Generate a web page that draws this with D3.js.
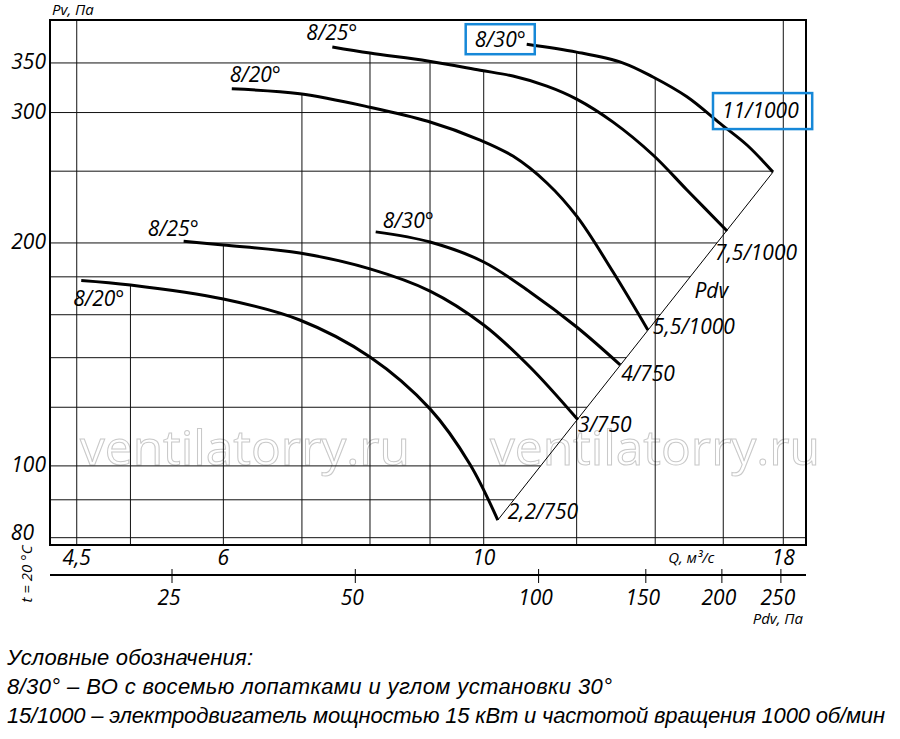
<!DOCTYPE html>
<html>
<head>
<meta charset="utf-8">
<script src="https://cdn.jsdelivr.net/npm/d3@7"></script>
<style>
body { margin: 0; background: #fff; }
text { font-family: "Open Sans", "Noto Sans", sans-serif; font-style: italic; fill: #000; }
.legend text { font-family: "Liberation Sans", Arial, sans-serif; }
</style>
</head>
<body>
<script>
// grid values and tick labels
var qGrid = [4.5, 5, 6, 7, 8, 9, 10, 12, 14, 16, 18];
var qLabels = [4.5, 6, 10, 18];
var pGrid = [80, 90, 100, 120, 140, 160, 180, 200, 250, 300, 350];
var pLabels = [80, 100, 200, 300, 350];
var pdvTicks = [25, 50, 100, 150, 200, 250];

// 750 rpm curves (Q m3/s, Pv Pa)
var q20_750 = [4.54, 5.0, 6.0, 6.97, 8.0, 9.0, 9.73, 10.28];
var p20_750 = [178, 175.5, 168, 157.4, 140.3, 119.4, 100.6, 84.5];
var q25_750 = [5.55, 6.0, 6.97, 8.0, 9.0, 10.0, 10.95, 12.03];
var p25_750 = [201, 198.7, 193.8, 184.5, 172.2, 155, 136, 115.4];
var q30_750 = [8.09, 9.0, 10.0, 10.95, 12.0, 13.07];
var p30_750 = [207, 200.6, 188.5, 171.7, 154, 136.9];

// 1000 rpm curves
var q20_1000 = [6.10, 6.97, 8.0, 8.96, 9.93, 10.59, 11.32, 12.01, 12.89, 13.80];
var p20_1000 = [323, 318, 305, 292, 275.4, 262, 241, 217, 182.7, 152.6];
var q25_1000 = [7.43, 8.0, 8.96, 9.93, 10.59, 11.32, 12.0, 12.89, 13.94, 14.9, 16.12];
var p25_1000 = [367.8, 360.9, 352.1, 342.2, 336, 325.7, 312.8, 291.2, 262.9, 235.8, 207.6];
var q30_1000 = [10.88, 12.0, 13.15, 13.94, 14.9, 15.9, 16.77, 17.64];
var p30_1000 = [371, 362, 349.9, 335, 315, 290, 271, 249.3];

var angles = ["8/20°", "8/25°", "8/30°", "8/20°", "8/25°", "8/30°"];
var motors = ["2,2/750", "3/750", "4/750", "5,5/1000", "7,5/1000", "11/1000"];

var legendLines = [
	"Условные обозначения:",
	"8/30° – ВО с восемью лопатками и углом установки 30°",
	"15/1000 – электродвигатель мощностью 15 кВт и частотой вращения 1000 об/мин"
];

var curves = [
	[q20_750, p20_750], [q25_750, p25_750], [q30_750, p30_750],
	[q20_1000, p20_1000], [q25_1000, p25_1000], [q30_1000, p30_1000]
].map(function (c, i) {
	return {
		angle: angles[i],
		motor: motors[i],
		pts: c[0].map(function (q, j) { return {q: q, p: c[1][j]}; })
	};
});

var plotLeft = 50, plotRight = 806, plotTop = 20, plotBottom = 545;

var svg = d3.select("body").append("svg")
	.attr("width", 900)
	.attr("height", 739);

var x = d3.scaleLog().domain([4.27, 18.82]).range([plotLeft, plotRight]);
var y = d3.scaleLog().domain([78.2, 400]).range([plotBottom, plotTop]);
var xPdv = d3.scaleLog().domain([15.76, 274.9]).range([plotLeft, plotRight]);

function comma(v) {
	return String(v).replace(".", ",");
}

// pressure of a curve at flow q, log-log interpolation
function pAt(pts, q) {
	if (q < pts[0].q || q > pts[pts.length - 1].q) return null;
	for (var i = 0; i < pts.length - 1; i++) {
		var a = pts[i], b = pts[i + 1];
		if (q >= a.q && q <= b.q) {
			var t = Math.log(q / a.q) / Math.log(b.q / a.q);
			return Math.exp(Math.log(a.p) + t * Math.log(b.p / a.p));
		}
	}
	return null;
}

// flow of a curve at pressure p (pressure falls along the curve)
function qAt(pts, p) {
	for (var i = 0; i < pts.length - 1; i++) {
		var a = pts[i], b = pts[i + 1];
		if (p <= a.p && p >= b.p) {
			var t = Math.log(p / a.p) / Math.log(b.p / a.p);
			return Math.exp(Math.log(a.q) + t * Math.log(b.q / a.q));
		}
	}
	return null;
}

var pdvLo = curves[0].pts[curves[0].pts.length - 1];
var pdvHi = curves[5].pts[curves[5].pts.length - 1];
var pdvK = Math.log(pdvHi.q / pdvLo.q) / Math.log(pdvHi.p / pdvLo.p);
var topCurve = curves[5].pts;

// watermark
[80, 490].forEach(function (wx) {
	svg.append("text")
		.attr("x", wx)
		.attr("y", 465)
		.attr("textLength", 330)
		.attr("lengthAdjust", "spacingAndGlyphs")
		.style("font-style", "normal")
		.style("font-size", "48px")
		.style("fill", "none")
		.style("stroke", "#c9c9c9")
		.style("stroke-width", 1)
		.text("ventilatorry.ru");
});

var grid = svg.append("g")
	.style("stroke", "#111")
	.style("stroke-width", 1);

// vertical grid stops at the highest curve
qGrid.forEach(function (q) {
	var maxP = null;
	curves.forEach(function (c) {
		var p = pAt(c.pts, q);
		if (p !== null && (maxP === null || p > maxP)) maxP = p;
	});
	grid.append("line")
		.attr("x1", x(q)).attr("x2", x(q))
		.attr("y1", plotBottom)
		.attr("y2", maxP === null ? plotTop : y(maxP));
});

// horizontal grid stops at the Pdv line / last curve
pGrid.forEach(function (p) {
	var qEnd = null;
	if (p >= pdvLo.p && p <= pdvHi.p) {
		qEnd = pdvLo.q * Math.pow(p / pdvLo.p, pdvK);
	} else if (p > pdvHi.p) {
		qEnd = qAt(topCurve, p);
	}
	grid.append("line")
		.attr("x1", plotLeft)
		.attr("x2", qEnd === null ? plotRight : x(qEnd))
		.attr("y1", y(p)).attr("y2", y(p));
});

// frame
svg.append("rect")
	.attr("x", plotLeft).attr("y", plotTop)
	.attr("width", plotRight - plotLeft).attr("height", plotBottom - plotTop)
	.style("fill", "none")
	.style("stroke", "#000")
	.style("stroke-width", 2);

// Pdv line
svg.append("line")
	.attr("x1", x(pdvLo.q)).attr("y1", y(pdvLo.p))
	.attr("x2", x(pdvHi.q)).attr("y2", y(pdvHi.p))
	.style("stroke", "#000")
	.style("stroke-width", 1);

var line = d3.line()
	.x(function (d) { return x(d.q); })
	.y(function (d) { return y(d.p); })
	.curve(d3.curveCatmullRom.alpha(0.5));

svg.append("g").selectAll("path")
	.data(curves)
	.enter().append("path")
	.attr("d", function (d) { return line(d.pts); })
	.style("fill", "none")
	.style("stroke", "#000")
	.style("stroke-width", 3);

// labels: offsets from curve start (angle) and end (motor)
var angleOff = [[-8, 26], [-36, -5], [7, -4], [-2, -7], [-26, -7], [-52, 3]];
var motorOff = [[10, -1], [0, 12], [1, 16], [5, 4], [-12, 29], [-51, -54]];

var labels = svg.append("g").style("font-size", "21px");

curves.forEach(function (c, i) {
	var s = c.pts[0], e = c.pts[c.pts.length - 1];
	var ta = labels.append("text")
		.attr("x", x(s.q) + angleOff[i][0])
		.attr("y", y(s.p) + angleOff[i][1])
		.text(c.angle);
	var tm = labels.append("text")
		.attr("x", x(e.q) + motorOff[i][0])
		.attr("y", y(e.p) + motorOff[i][1])
		.text(c.motor);
	if (i === 5) {
		[ta, tm].forEach(function (t, k) {
			var bb = t.node().getBBox();
			svg.append("rect")
				.attr("x", bb.x - 9)
				.attr("y", bb.y - 1 - k * 2)
				.attr("width", bb.width + (k ? 22 : 18))
				.attr("height", bb.height + 2 + k * 6)
				.style("fill", "none")
				.style("stroke", "#1688d8")
				.style("stroke-width", 2.5);
		});
	}
});

labels.append("text")
	.attr("x", x(pdvLo.q) + (x(pdvHi.q) - x(pdvLo.q)) * 0.66 + 15)
	.attr("y", y(pdvLo.p) + (y(pdvHi.p) - y(pdvLo.p)) * 0.66 + 8)
	.text("Pdv");

// Y axis labels
svg.append("g").style("font-size", "21px")
	.selectAll("text")
	.data(pLabels)
	.enter().append("text")
	.attr("x", function (d) { return d === 80 ? 34 : 46; })
	.attr("y", function (d) { return Math.min(y(d) + 6, 540); })
	.attr("text-anchor", "end")
	.text(function (d) { return d; });

// Q labels
svg.append("g").style("font-size", "21px")
	.selectAll("text")
	.data(qLabels)
	.enter().append("text")
	.attr("x", function (d) { return x(d); })
	.attr("y", 565)
	.attr("text-anchor", "middle")
	.text(comma);

// Pdv axis
var pdvAxis = svg.append("g");
pdvAxis.append("line")
	.attr("x1", plotLeft).attr("x2", plotRight)
	.attr("y1", 575).attr("y2", 575)
	.style("stroke", "#000")
	.style("stroke-width", 2);
pdvAxis.selectAll(".tk")
	.data(pdvTicks)
	.enter().append("line")
	.attr("x1", function (d) { return xPdv(d); })
	.attr("x2", function (d) { return xPdv(d); })
	.attr("y1", 569).attr("y2", 583)
	.style("stroke", "#000")
	.style("stroke-width", 1);
pdvAxis.selectAll("text")
	.data(pdvTicks)
	.enter().append("text")
	.attr("x", function (d) { return xPdv(d) - 3; })
	.attr("y", 605)
	.attr("text-anchor", "middle")
	.style("font-size", "21px")
	.text(function (d) { return d; });

// axis titles
var small = svg.append("g").style("font-size", "15px");
small.append("text").attr("x", 52).attr("y", 15).text("Pv, Па");
small.append("text").attr("x", x(16) - 9).attr("y", 563)
	.attr("text-anchor", "end").text("Q, м³/с");
small.append("text").attr("x", 803).attr("y", 624)
	.attr("text-anchor", "end").text("Pdv, Па");
small.append("text")
	.attr("transform", "translate(32,574) rotate(-90)")
	.attr("text-anchor", "middle")
	.text("t = 20 °C");

// legend
var legendWidths = [246, 605, 878];
svg.append("g").attr("class", "legend")
	.selectAll("text")
	.data(legendLines)
	.enter().append("text")
	.attr("x", 7)
	.attr("y", function (d, i) { return 665 + i * 29; })
	.attr("textLength", function (d, i) { return legendWidths[i]; })
	.attr("lengthAdjust", "spacing")
	.style("font-size", "22px")
	.text(function (d) { return d; });
</script>
</body>
</html>
